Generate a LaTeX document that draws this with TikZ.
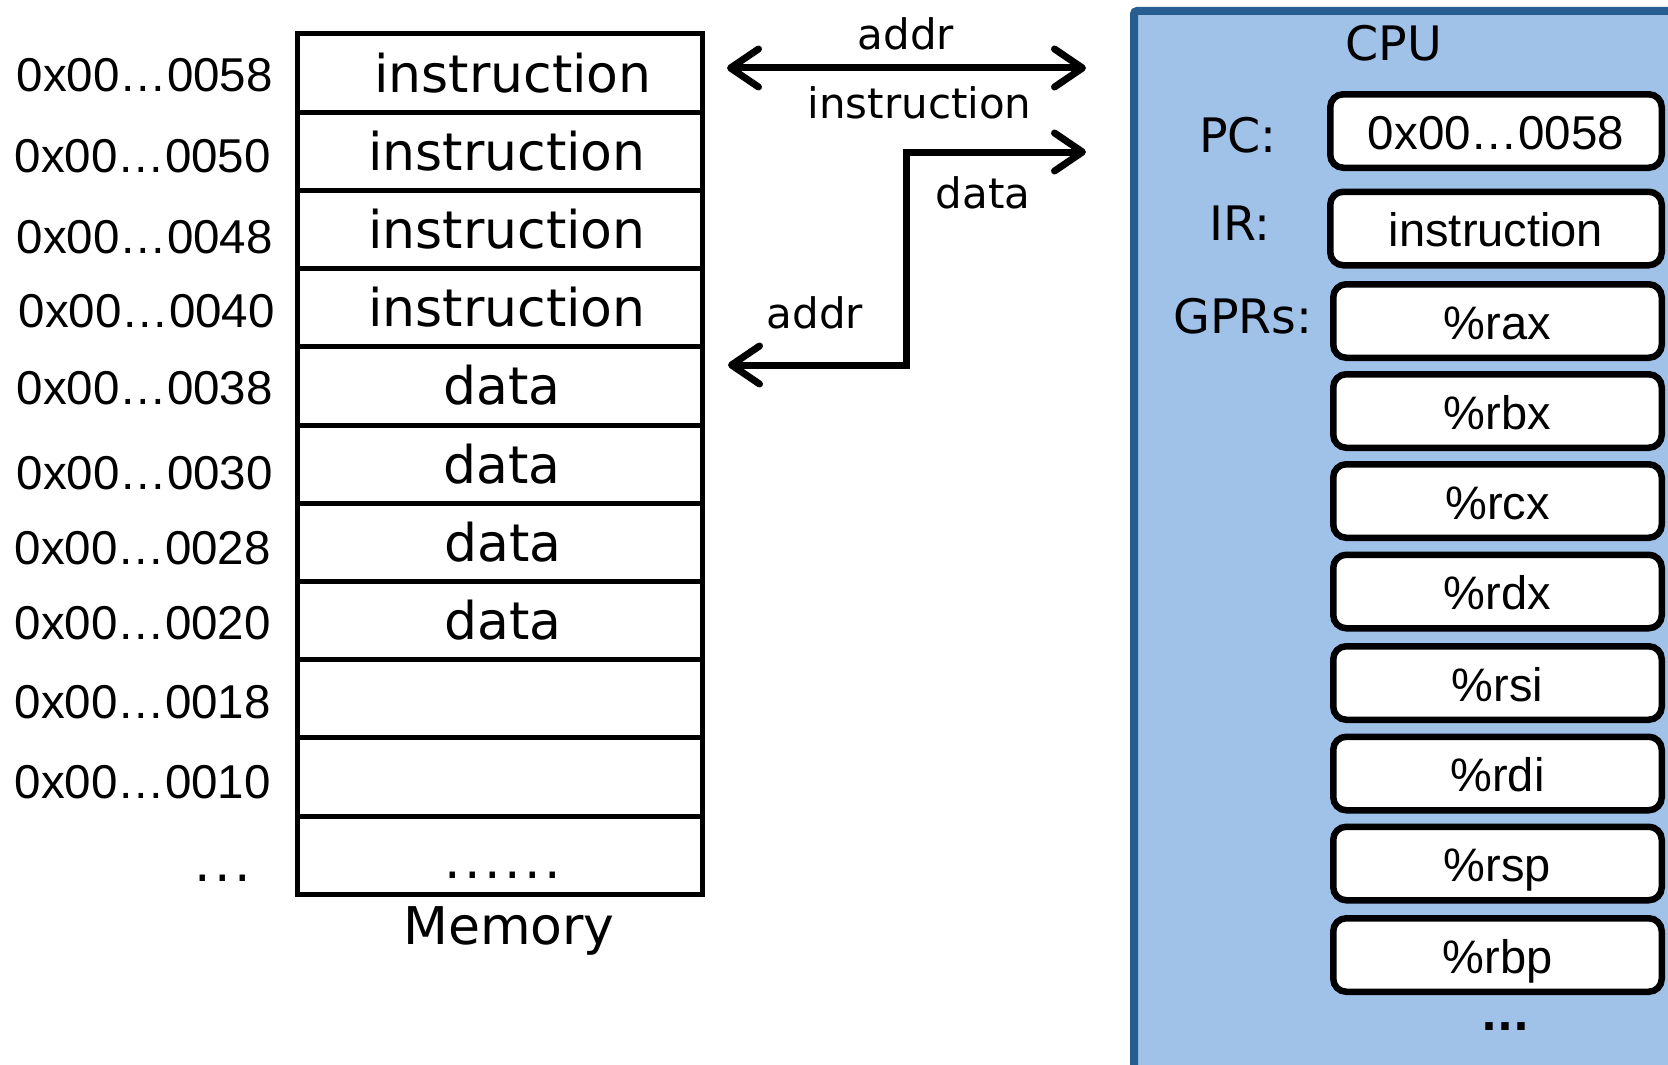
\documentclass[tikz,border=0pt]{standalone}
\usepackage{fontspec}
\setmainfont{DejaVu Sans}
\newfontfamily\verd{DejaVu Sans}
\newfontfamily\arl{Liberation Sans}
\usetikzlibrary{arrows.meta}
\definecolor{cpufill}{RGB}{160,194,232}
\definecolor{cpuedge}{RGB}{40,93,145}
\newcommand{\spdots}[1]{\foreach \k in {1,...,#1}{\ifnum\k>1\kern3.5pt\fi.}}
\begin{document}
\begin{tikzpicture}[x=1pt,y=-1pt,line join=miter,
  cell/.style={draw=black,line width=5pt,minimum width=405pt,minimum height=78.2pt,inner sep=0pt,outer sep=0pt},
  memtxt/.style={inner sep=0pt,text height=38pt,text depth=0pt,font=\verd\fontsize{52}{60}\selectfont},
  adr/.style={anchor=base east,inner sep=0pt,font=\arl\fontsize{47.5}{55}\selectfont},
  buslbl/.style={anchor=base,inner sep=0pt,font=\verd\fontsize{42}{50}\selectfont},
  cpulbl/.style={anchor=base,inner sep=0pt,font=\verd\fontsize{47.5}{55}\selectfont},
  reg/.style={draw=black,fill=white,line width=6.5pt,rounded corners=13pt,minimum width=328.5pt,minimum height=73.5pt,inner sep=0pt,text height=36pt,text depth=0pt,font=\arl\fontsize{47}{55}\selectfont},
  bus/.style={line width=7pt,{Straight Barb[length=28pt,width=38pt,round]}-{Straight Barb[length=28pt,width=38pt,round]}},
]
\clip (0,0) rectangle (1668,1065);
\fill[white] (0,0) rectangle (1668,1065);

% ---------------- memory ----------------
\foreach \i in {1,...,11} {
  \node[cell] (m\i) at (500,{73.1+78.2*(\i-1)}) {};
}
\node[memtxt] (t1) at ([xshift=13pt]m1.center) {instruction};
\node[memtxt] (t2) at ([xshift=7pt]m2.center) {instruction};
\node[memtxt] (t3) at ([xshift=7pt]m3.center) {instruction};
\node[memtxt] (t4) at ([xshift=7pt]m4.center) {instruction};
\node[memtxt] (t5) at ([xshift=2pt]m5.center) {data};
\node[memtxt] (t6) at ([xshift=2pt]m6.center) {data};
\node[memtxt] (t7) at ([xshift=3pt]m7.center) {data};
\node[memtxt] (t8) at ([xshift=3pt]m8.center) {data};
\node[anchor=base,inner sep=0pt,font=\verd\fontsize{52}{60}\selectfont] (mdots) at (503,878) {\spdots{6}};

\node[adr] (a1) at (273,92) {0x00…0058};
\node[adr] (a2) at (271,172) {0x00…0050};
\node[adr] (a3) at (273,253) {0x00…0048};
\node[adr] (a4) at (275,327) {0x00…0040};
\node[adr] (a5) at (273,404) {0x00…0038};
\node[adr] (a6) at (273,489) {0x00…0030};
\node[adr] (a7) at (271,564) {0x00…0028};
\node[adr] (a8) at (271,639) {0x00…0020};
\node[adr] (a9) at (271,718) {0x00…0018};
\node[adr] (a10) at (271,798) {0x00…0010};
\node[anchor=base,inner sep=0pt,font=\verd\fontsize{52}{60}\selectfont] (adots) at (223,881) {\spdots{3}};
\node[anchor=base,inner sep=0pt,font=\verd\fontsize{52}{60}\selectfont] (memlbl) at (509,944) {Memory};

% ---------------- CPU ----------------
\node[draw=cpuedge,fill=cpufill,line width=8pt,rounded corners=3pt,anchor=north west,
      minimum width=700pt,minimum height=1061pt,inner sep=0pt] (cpu) at (1130,7) {};
\node[cpulbl] (cputitle) at (1394,60) {CPU};
\node[cpulbl] (pclbl) at (1238,152) {PC:};
\node[cpulbl] (irlbl) at (1240,240) {IR:};
\node[cpulbl] (gprlbl) at (1243,333) {GPRs:};
\node[reg,minimum width=331.5pt,font=\arl\fontsize{47.5}{55}\selectfont] (pc) at (1496,131) {0x00…0058};
\node[reg,minimum width=331.5pt] (ir) at (1496,228.5) {instruction};
\foreach \n/\y in {rax/321,rbx/411,rcx/501,rdx/591.5,rsi/683,rdi/773.5,rsp/863.5,rbp/955}{
  \node[reg] (\n) at (1497.5,\y) {\%\n};
}
\node[anchor=base,inner sep=0pt,font=\verd\bfseries\fontsize{42}{48}\selectfont] (cpudots) at (1505,1030) {...};

% ---------------- buses ----------------
\coordinate (busL) at (727,68);
\coordinate (busR) at (1086,68);
\coordinate (datL) at (728,365);
\coordinate (bend) at (906,152);
\coordinate (datR) at (1086,152);
\draw[bus] (busL) -- (busR);
\draw[bus] (datL) -| (bend) -- (datR);
\node[buslbl] (l1) at (906,50) {addr};
\node[buslbl] (l2) at (919.5,118) {instruction};
\node[buslbl] (l3) at (983,208) {data};
\node[buslbl] (l4) at (815,328) {addr};
\end{tikzpicture}
\end{document}
